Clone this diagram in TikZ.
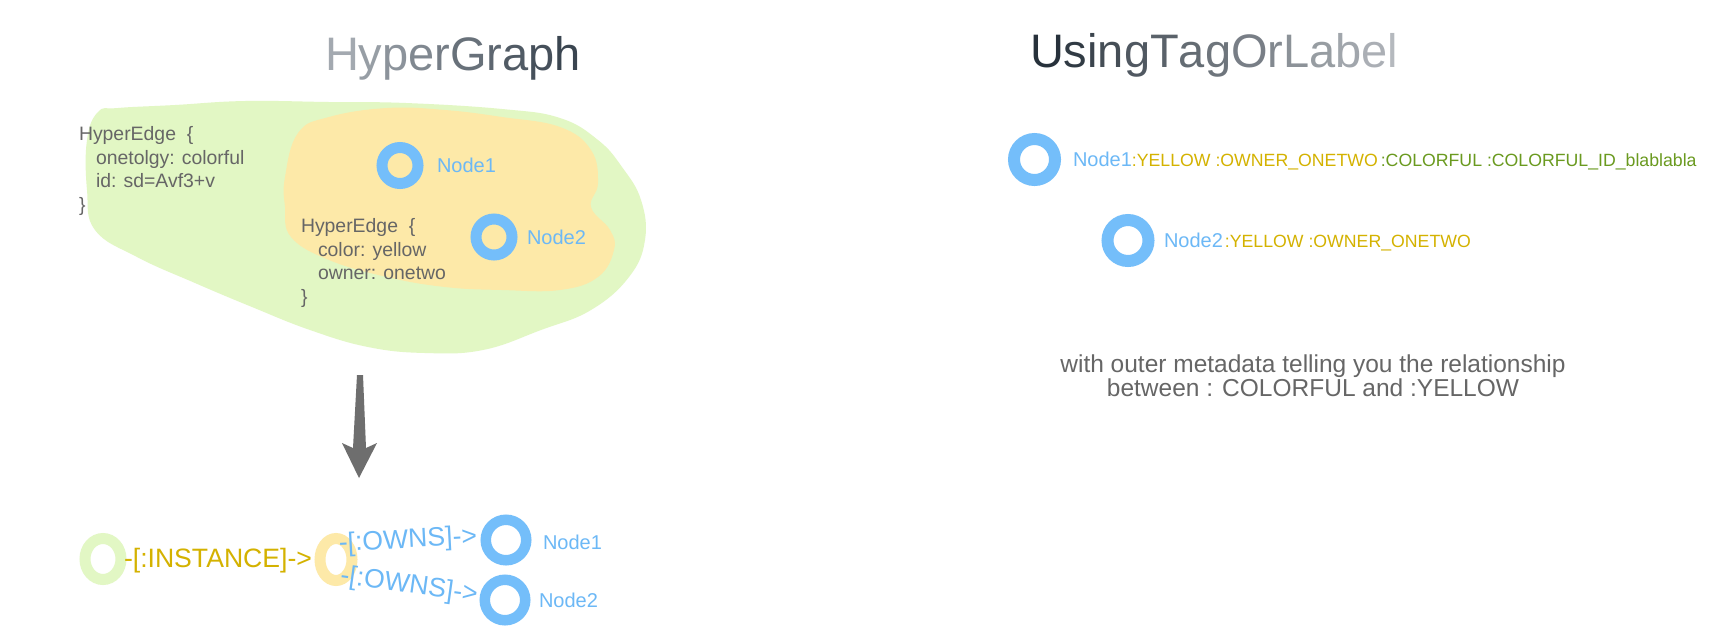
\documentclass[tikz,border=0pt]{standalone}
\usepackage{fontspec}
\setmainfont{Liberation Sans}
\definecolor{tgray}{HTML}{666666}
\definecolor{agray}{HTML}{6E6E6E}
\definecolor{nblue}{HTML}{74BEFA}
\definecolor{tblue}{HTML}{6CB8F6}
\definecolor{gold}{HTML}{D4B200}
\definecolor{grn}{HTML}{6A9A1F}
\definecolor{gblob}{HTML}{E2F7C4}
\definecolor{yblob}{HTML}{FDE9A8}
\definecolor{hL}{HTML}{A3A9B0}
\definecolor{hD}{HTML}{3A4550}
\definecolor{uD}{HTML}{27313B}
\definecolor{uL}{HTML}{B5B9BE}
\begin{document}
\begin{tikzpicture}[x=1pt,y=-1pt,
  every node/.style={inner sep=0pt, outer sep=0pt},
  title/.style={anchor=base west, font=\fontsize{47}{56}\selectfont},
  code/.style={anchor=base west, align=left, text=tgray, font=\fontsize{19.4}{23.5}\selectfont},
  nlabel/.style={anchor=base west, text=tblue, font=\fontsize{20}{24}\selectfont},
  tagtxt/.style={anchor=base west, font=\fontsize{17.7}{20}\selectfont},
  rel/.style={font=\fontsize{26.6}{32}\selectfont},
  ringA/.style={circle, draw=nblue, line width=11pt, minimum size=36pt},
  ringB/.style={circle, draw=nblue, line width=12pt, minimum size=41pt},
  ringC/.style={circle, draw=nblue, line width=10.5pt, minimum size=40.5pt},
  ovalring/.style={line width=11pt},
]
\useasboundingbox[fill=white] (0,0) rectangle (1722,641);

% titles
\node[title] (t1) at (325,70) {\textcolor{hL}{H}\textcolor{hD!11!hL}{y}\textcolor{hD!22!hL}{p}\textcolor{hD!33!hL}{e}\textcolor{hD!44!hL}{r}\textcolor{hD!56!hL}{G}\textcolor{hD!67!hL}{r}\textcolor{hD!78!hL}{a}\textcolor{hD!89!hL}{p}\textcolor{hD}{h}};
\node[title] (t2) at (1030,67) {\textcolor{uD}{U}\textcolor{uL!7!uD}{s}\textcolor{uL!14!uD}{i}\textcolor{uL!21!uD}{n}\textcolor{uL!29!uD}{g}\textcolor{uL!36!uD}{T}\textcolor{uL!43!uD}{a}\textcolor{uL!50!uD}{g}\textcolor{uL!57!uD}{O}\textcolor{uL!64!uD}{r}\textcolor{uL!71!uD}{L}\textcolor{uL!79!uD}{a}\textcolor{uL!86!uD}{b}\textcolor{uL!93!uD}{e}\textcolor{uL}{l}};

% blobs
\fill[gblob] plot[smooth cycle, tension=0.7] coordinates {(98,112) (87,140) (87,190) (95,230) (137,257) (195,283) (252,307) (310,330) (368,347) (425,353) (483,350) (541,330) (591,310) (629,277) (645,240) (641,200) (622,167) (598,140) (560,118) (502,109) (406,103) (329,102) (245,101) (175,105) (118,108)};
\fill[yblob] plot[smooth cycle, tension=0.7] coordinates {(285,177) (298,133) (329,117) (387,108) (445,110) (502,117) (560,127) (591,150) (598,183) (591,207) (610,230) (614,250) (598,277) (560,290) (502,290) (445,287) (387,277) (329,260) (291,237) (285,207)};

% hypergraph contents (base = last line)
\node[code] (he1) at (79,211) {HyperEdge\ \ \{\\\hspace*{17pt}onetolgy: colorful\\\hspace*{17pt}id: sd=Avf3+v\\\}};
\node[code] (he2) at (301,303) {HyperEdge\ \ \{\\\hspace*{17pt}color: yellow\\\hspace*{17pt}owner: onetwo\\\}};
\node[ringA] (hn1) at (400,165.5) {};
\node[nlabel] (hn1l) at (437,172.5) {Node1};
\node[ringA] (hn2) at (494,237) {};
\node[nlabel] (hn2l) at (527,244) {Node2};

% down arrow
\fill[agray] (357,375) -- (363,375) -- (366,448) -- (377,443) -- (359,478) -- (342,443) -- (353,448) -- cycle;

% bottom graph
\coordinate (g0) at (103,559);
\draw[ovalring, gblob] (g0) ellipse [x radius=18pt, y radius=20.5pt];
\node[rel, anchor=base west, text=gold] (inst) at (124,567) {-[:INSTANCE]->};
\coordinate (y0) at (336,559.5);
\draw[ovalring, yblob] (y0) ellipse [x radius=16pt, y radius=21pt];
\node[rel, text=tblue, rotate=3] (own1) at (408,541) {-[:OWNS]->};
\node[rel, text=tblue, rotate=-8] (own2) at (409,586) {-[:OWNS]->};
\node[ringC] (bn1) at (506,540) {};
\node[nlabel] (bn1l) at (543,549) {Node1};
\node[ringC] (bn2) at (505,600) {};
\node[nlabel] (bn2l) at (539,607) {Node2};

% right side
\node[ringB] (rn1) at (1034.5,159.5) {};
\node[nlabel] (rn1l) at (1073,166) {Node1};
\node[tagtxt, text=gold] (rn1y) at (rn1l.base east) {:YELLOW :OWNER\_ONETWO};
\node[tagtxt, text=grn] (rn1g) at ([xshift=3pt]rn1y.base east) {:COLORFUL :COLORFUL\_ID\_blablabla};
\node[ringB] (rn2) at (1128,240.5) {};
\node[nlabel] (rn2l) at (1164,247) {Node2};
\node[tagtxt, text=gold] (rn2y) at ([xshift=2pt]rn2l.base east) {:YELLOW :OWNER\_ONETWO};

\node[anchor=base, align=center, text=tgray, font=\fontsize{24.5}{23.5}\selectfont] (meta) at (1313,396) {with outer metadata telling you the relationship\\between : COLORFUL and :YELLOW};
\end{tikzpicture}
\end{document}
